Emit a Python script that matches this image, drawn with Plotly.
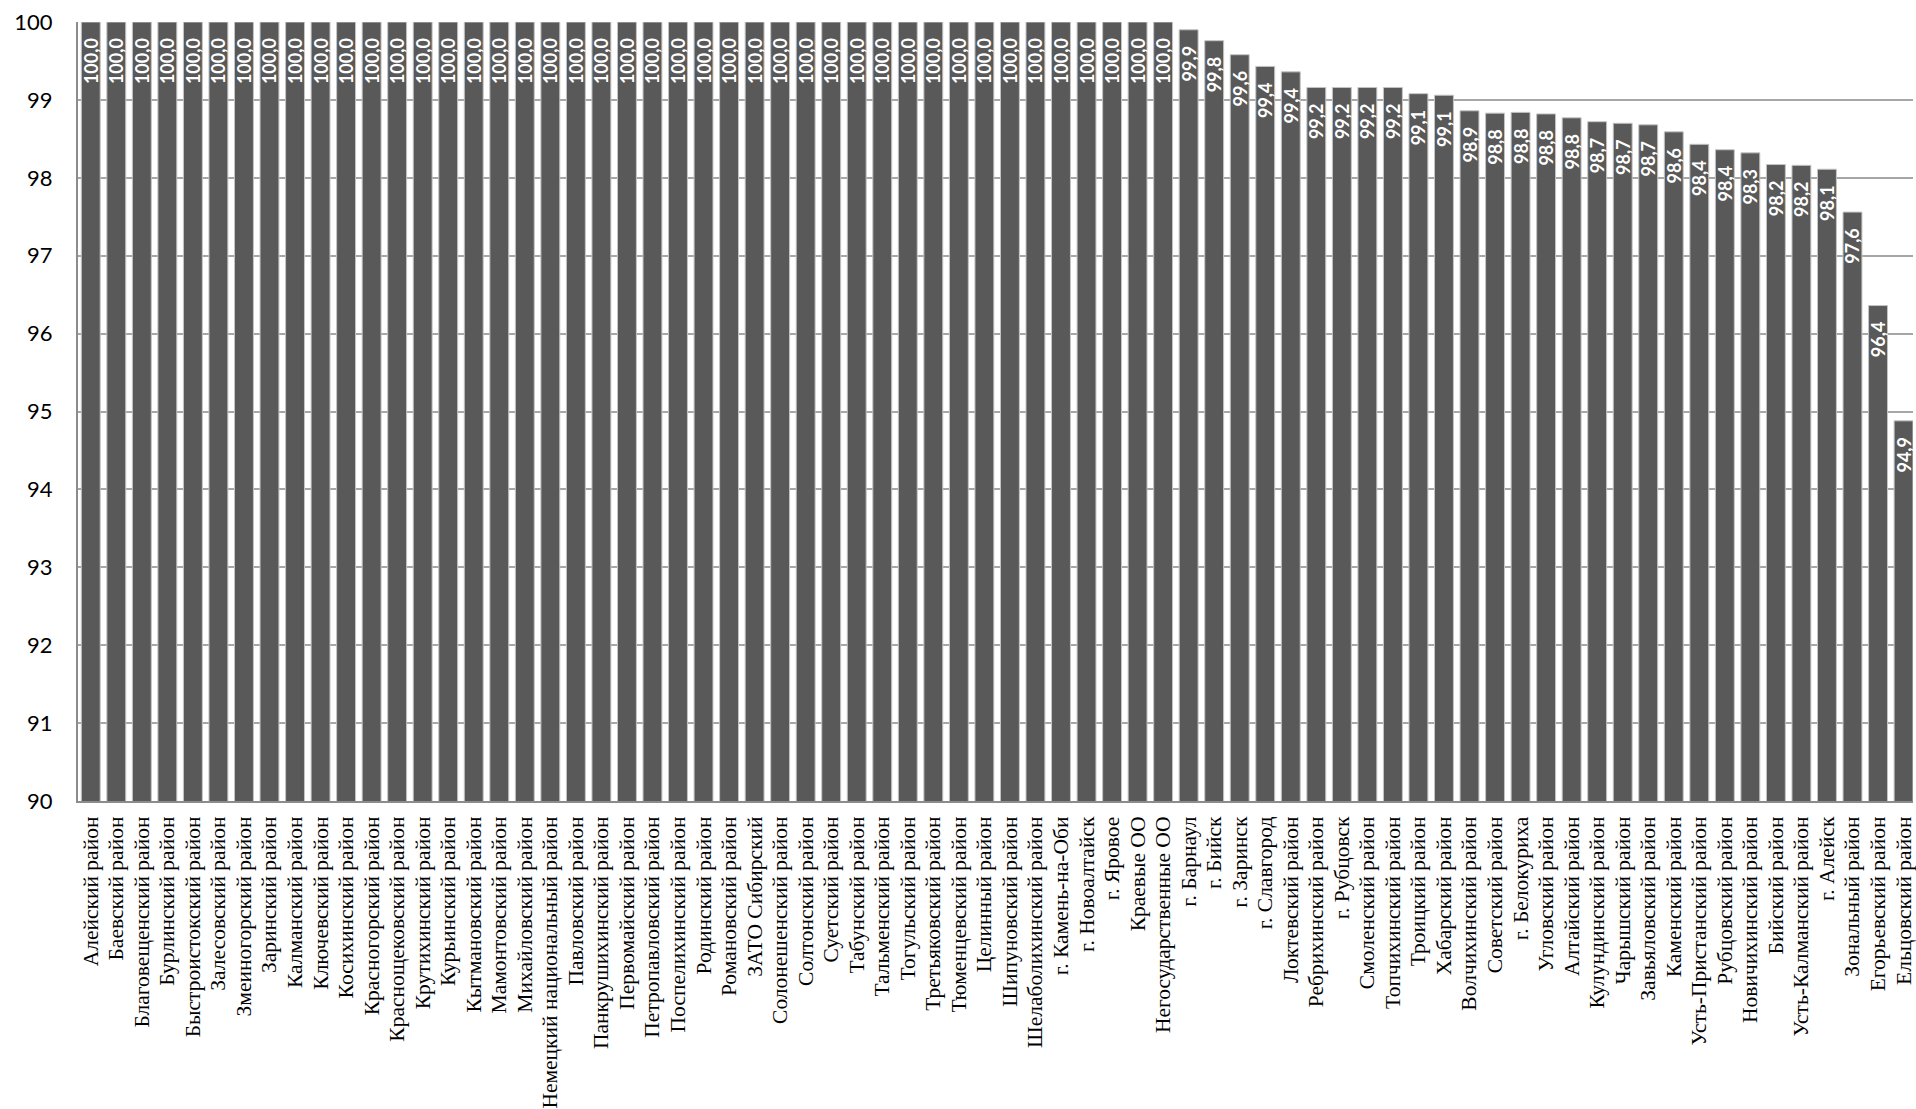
import plotly.graph_objects as go

categories = [
    "Алейский район", "Баевский район", "Благовещенский район", "Бурлинский район",
    "Быстроистокский район", "Залесовский район", "Змеиногорский район", "Заринский район",
    "Калманский район", "Ключевский район", "Косихинский район", "Красногорский район",
    "Краснощековский район", "Крутихинский район", "Курьинский район", "Кытмановский район",
    "Мамонтовский район", "Михайловский район", "Немецкий национальный район", "Павловский район",
    "Панкрушихинский район", "Первомайский район", "Петропавловский район", "Поспелихинский район",
    "Родинский район", "Романовский район", "ЗАТО Сибирский", "Солонешенский район",
    "Солтонский район", "Суетский район", "Табунский район", "Тальменский район",
    "Тогульский район", "Третьяковский район", "Тюменцевский район", "Целинный район",
    "Шипуновский район", "Шелаболихинский район", "г. Камень-на-Оби", "г. Новоалтайск",
    "г. Яровое", "Краевые ОО", "Негосударственные ОО", "г. Барнаул",
    "г. Бийск", "г. Заринск", "г. Славгород", "Локтевский район",
    "Ребрихинский район", "г. Рубцовск", "Смоленский район", "Топчихинский район",
    "Троицкий район", "Хабарский район", "Волчихинский район", "Советский район",
    "г. Белокуриха", "Угловский район", "Алтайский район", "Кулундинский район",
    "Чарышский район", "Завьяловский район", "Каменский район", "Усть-Пристанский район",
    "Рубцовский район", "Новичихинский район", "Бийский район", "Усть-Калманский район",
    "г. Алейск", "Зональный район", "Егорьевский район", "Ельцовский район",
]

values = [100.0] * 43 + [
    99.90, 99.76, 99.58, 99.43, 99.36,
    99.16, 99.16, 99.16, 99.16, 99.08, 99.06,
    98.86, 98.83, 98.84, 98.82, 98.77, 98.72,
    98.70, 98.68, 98.59, 98.43, 98.36, 98.32,
    98.17, 98.16, 98.11, 97.56, 96.36, 94.88,
]

y_ticks = [90, 91, 92, 93, 94, 95, 96, 97, 98, 99, 100]

fig = go.Figure(
    go.Bar(
        x=categories,
        y=values,
        marker=dict(color="#595959", line=dict(color="#c4c4c4", width=1)),
        texttemplate="%{y:.1f}\u00a0\u00a0\u00a0",
        textposition="inside",
        insidetextanchor="end",
        textangle=-90,
        insidetextfont=dict(family="Lato", size=18, color="white", weight="bold"),
        cliponaxis=False,
    )
)

fig.update_layout(
    width=1916,
    height=1109,
    margin=dict(l=78, r=0, t=22, b=306),
    plot_bgcolor="white",
    paper_bgcolor="white",
    separators=", ",
    bargap=0.26,
    showlegend=False,
    uniformtext=dict(minsize=18, mode="show"),
    xaxis=dict(
        type="category",
        range=[-0.5, 71.37],
        tickmode="array",
        tickvals=categories,
        ticktext=categories,
        tickangle=-90,
        tickfont=dict(family="Liberation Serif", size=21.5, color="black"),
        showline=True,
        linecolor="#8c8c8c",
        linewidth=2,
        showgrid=False,
        ticks="",
        ticklabelstandoff=5,
    ),
    yaxis=dict(
        range=[90, 100],
        tickvals=y_ticks,
        ticktext=[str(v) for v in y_ticks],
        tickfont=dict(family="Lato", size=22, color="black"),
        showgrid=True,
        gridcolor="#a6a6a6",
        gridwidth=1.5,
        showline=True,
        linecolor="#8c8c8c",
        linewidth=2,
        ticks="",
        ticklabelstandoff=19,
        zeroline=False,
    ),
)

fig.write_html(
    "out.html",
    config={"displayModeBar": False},
    post_script="document.body.style.margin='0';document.body.style.overflow='hidden';",
)
